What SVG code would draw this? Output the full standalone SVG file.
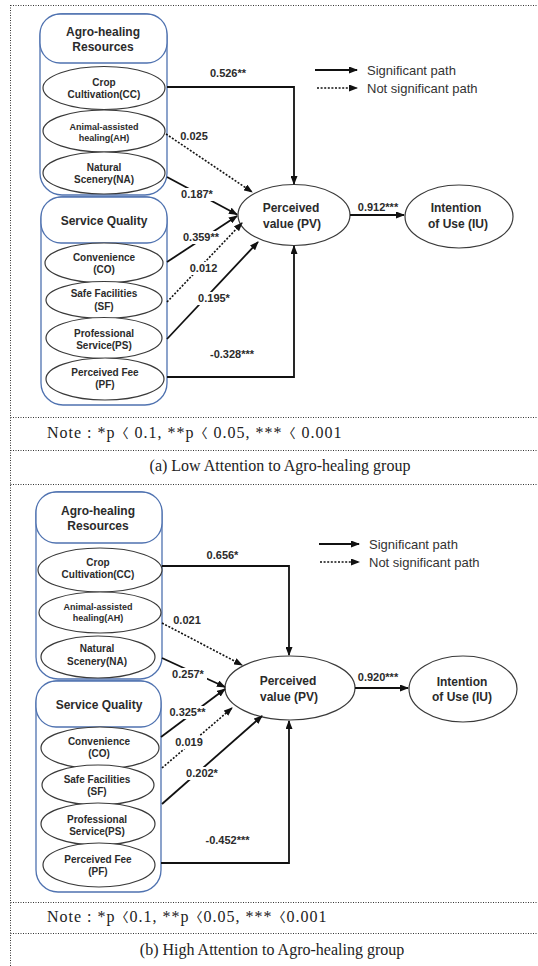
<svg xmlns="http://www.w3.org/2000/svg" width="538" height="966" viewBox="0 0 538 966">
<defs>
<marker id="ah" markerUnits="userSpaceOnUse" markerWidth="9" markerHeight="7" refX="8" refY="3.5" orient="auto">
<path d="M0,0 L9,3.5 L0,7 z" fill="#111"/>
</marker>
<style>
.frame{stroke:#333;stroke-width:1;stroke-dasharray:1 1.5;fill:none}
.box{fill:#fff;stroke:#4f72b0;stroke-width:1.3}
.ell{fill:#fff;stroke:#3a3a3a;stroke-width:1.2}
.t{font-family:"Liberation Sans",Arial,sans-serif;font-weight:bold;fill:#2b2b2b;text-anchor:middle}
.h{font-size:12px}
.n{font-size:10px}
.s{font-size:9px}
.lab{font-family:"Liberation Sans",Arial,sans-serif;font-weight:bold;font-size:11px;fill:#2b2b2b;text-anchor:middle}
.leg{font-family:"Liberation Sans",Arial,sans-serif;font-size:13px;fill:#333}
.note{font-family:"Liberation Serif","Times New Roman","Noto Sans CJK KR",serif;font-size:16px;fill:#222}
.ls{letter-spacing:1px}
.br{font-family:"DejaVu Sans","Noto Sans CJK KR",sans-serif;font-size:13px}
.sig{stroke:#111;stroke-width:1.8;fill:none;marker-end:url(#ah)}
.ns{stroke:#111;stroke-width:1.6;stroke-dasharray:2 1.6;fill:none;marker-end:url(#ah)}
.bg{fill:#fff}
</style>
</defs>
<rect width="538" height="966" fill="#fff"/>

<g id="frame">
<line class="frame" x1="10.5" y1="5" x2="10.5" y2="966"/>
<line class="frame" x1="10.5" y1="5.5" x2="538" y2="5.5"/>
<line class="frame" x1="10.5" y1="417.5" x2="538" y2="417.5"/>
<line class="frame" x1="10.5" y1="450.5" x2="538" y2="450.5"/>
<line class="frame" x1="10.5" y1="484.5" x2="538" y2="484.5"/>
<line class="frame" x1="10.5" y1="902.5" x2="538" y2="902.5"/>
<line class="frame" x1="10.5" y1="933.5" x2="538" y2="933.5"/>
</g>

<!-- ===== Panel (a) ===== -->
<g id="a-agro">
<rect class="box" x="40" y="14" width="127" height="181" rx="22"/>
<rect class="box" x="40" y="14" width="127" height="49" rx="20"/>
<text class="t h" x="103" y="36">Agro-healing</text>
<text class="t h" x="103" y="51">Resources</text>
</g>
<g id="a-service">
<rect class="box" x="41" y="197" width="126" height="208" rx="22"/>
<rect class="box" x="41" y="197" width="126" height="46" rx="20"/>
<text class="t h" x="104" y="225">Service Quality</text>
</g>
<g id="a-CC"><ellipse class="ell" cx="104" cy="88" rx="61" ry="21.5"/><text class="t n" x="104" y="86">Crop</text><text class="t n" x="104" y="98">Cultivation(CC)</text></g>
<g id="a-AH"><ellipse class="ell" cx="104" cy="131" rx="61" ry="21"/><text class="t s" x="104" y="130">Animal-assisted</text><text class="t s" x="104" y="141">healing(AH)</text></g>
<g id="a-NA"><ellipse class="ell" cx="104" cy="173" rx="61" ry="21"/><text class="t n" x="104" y="171">Natural</text><text class="t n" x="104" y="183">Scenery(NA)</text></g>
<g id="a-CO"><ellipse class="ell" cx="104" cy="263" rx="59" ry="20"/><text class="t n" x="104" y="261">Convenience</text><text class="t n" x="104" y="273">(CO)</text></g>
<g id="a-SF"><ellipse class="ell" cx="104" cy="300" rx="58" ry="18.5"/><text class="t n" x="104" y="297">Safe Facilities</text><text class="t n" x="104" y="310">(SF)</text></g>
<g id="a-PS"><ellipse class="ell" cx="104" cy="338" rx="58" ry="20.5"/><text class="t n" x="104" y="337">Professional</text><text class="t n" x="104" y="349">Service(PS)</text></g>
<g id="a-PF"><ellipse class="ell" cx="105" cy="379" rx="59" ry="21"/><text class="t n" x="105" y="376">Perceived Fee</text><text class="t n" x="105" y="388">(PF)</text></g>
<g id="a-PV"><ellipse class="ell" cx="294" cy="215" rx="56" ry="30.5"/><text class="t h" x="291" y="212">Perceived</text><text class="t h" x="292" y="228">value (PV)</text></g>
<g id="a-IU"><ellipse class="ell" cx="459" cy="216.5" rx="54" ry="31.5"/><text class="t h" x="456" y="212">Intention</text><text class="t h" x="458" y="228">of Use (IU)</text></g>

<g id="a-connectors">
<path class="sig" d="M167 87 H294 V184"/>
<path class="ns" d="M166 134 L252 192"/>
<path class="sig" d="M167 177 L237 214.5"/>
<path class="sig" d="M167 262 L237 216"/>
<path class="ns" d="M167 302 L242 223"/>
<path class="sig" d="M167 339 L258 242"/>
<path class="sig" d="M167 377 H294 V246"/>
<path class="sig" d="M350 215 H404"/>
<line x1="315" y1="70" x2="357" y2="70" class="sig"/>
<line x1="317" y1="88" x2="357" y2="88" class="ns"/>
</g>
<g id="a-labels">
<rect class="bg" x="180" y="188" width="34" height="13"/>
<rect class="bg" x="181" y="231" width="40" height="13"/>
<rect class="bg" x="188" y="262" width="31" height="13"/>
<rect class="bg" x="195" y="292" width="38" height="13"/>
<text class="lab" x="228" y="77">0.526**</text>
<text class="lab" x="194" y="140">0.025</text>
<text class="lab" x="197" y="198">0.187*</text>
<text class="lab" x="201" y="241">0.359**</text>
<text class="lab" x="203.5" y="272">0.012</text>
<text class="lab" x="214" y="302">0.195*</text>
<text class="lab" x="232" y="358">-0.328***</text>
<text class="lab" x="378" y="211">0.912***</text>
<text class="leg" x="367" y="74.5">Significant path</text>
<text class="leg" x="367" y="92.5">Not significant path</text>
</g>
<g id="a-notes">
<text class="note ls" x="47" y="438">Note : *p<tspan class="br">〈</tspan> 0.1, **p<tspan class="br">〈</tspan> 0.05, ***<tspan class="br">〈</tspan> 0.001</text>
<text class="note" x="280" y="471" text-anchor="middle">(a) Low Attention to Agro-healing group</text>
</g>

<!-- ===== Panel (b) ===== -->
<g id="b-agro">
<rect class="box" x="36" y="492" width="126" height="187" rx="22"/>
<rect class="box" x="36" y="492" width="126" height="51" rx="20"/>
<text class="t h" x="98" y="515">Agro-healing</text>
<text class="t h" x="98" y="530">Resources</text>
</g>
<g id="b-service">
<rect class="box" x="36" y="681" width="125" height="211" rx="22"/>
<rect class="box" x="36" y="681" width="125" height="46" rx="20"/>
<text class="t h" x="99" y="709">Service Quality</text>
</g>
<g id="b-CC"><ellipse class="ell" cx="100" cy="570" rx="62" ry="22"/><text class="t n" x="98" y="566">Crop</text><text class="t n" x="98" y="578">Cultivation(CC)</text></g>
<g id="b-AH"><ellipse class="ell" cx="100" cy="612.5" rx="61" ry="20.5"/><text class="t s" x="98" y="610">Animal-assisted</text><text class="t s" x="98" y="621">healing(AH)</text></g>
<g id="b-NA"><ellipse class="ell" cx="98" cy="657" rx="57" ry="21"/><text class="t n" x="97" y="652">Natural</text><text class="t n" x="97" y="665">Scenery(NA)</text></g>
<g id="b-CO"><ellipse class="ell" cx="100" cy="748" rx="59" ry="21"/><text class="t n" x="99" y="745">Convenience</text><text class="t n" x="99" y="757">(CO)</text></g>
<g id="b-SF"><ellipse class="ell" cx="98" cy="785" rx="56" ry="20"/><text class="t n" x="97" y="783">Safe Facilities</text><text class="t n" x="97" y="795">(SF)</text></g>
<g id="b-PS"><ellipse class="ell" cx="98" cy="824" rx="57" ry="21"/><text class="t n" x="97" y="823">Professional</text><text class="t n" x="97" y="835">Service(PS)</text></g>
<g id="b-PF"><ellipse class="ell" cx="99" cy="865" rx="56" ry="22"/><text class="t n" x="98" y="863">Perceived Fee</text><text class="t n" x="98" y="875">(PF)</text></g>
<g id="b-PV"><ellipse class="ell" cx="290" cy="688" rx="65" ry="32"/><text class="t h" x="288" y="685">Perceived</text><text class="t h" x="289" y="701">value (PV)</text></g>
<g id="b-IU"><ellipse class="ell" cx="463" cy="689" rx="54" ry="33"/><text class="t h" x="462" y="686">Intention</text><text class="t h" x="462" y="701">of Use (IU)</text></g>

<g id="b-connectors">
<path class="sig" d="M162 566 H289 V655"/>
<path class="ns" d="M162 623 L242 665"/>
<path class="sig" d="M162 658 L225 687"/>
<path class="sig" d="M161 737 L225 689"/>
<path class="ns" d="M162 768 L232 708"/>
<path class="sig" d="M162 804 L262 716"/>
<path class="sig" d="M161 863 H289 V721"/>
<path class="sig" d="M355 688 H408"/>
<line x1="319" y1="544" x2="359" y2="544" class="sig"/>
<line x1="320" y1="562" x2="359" y2="562" class="ns"/>
</g>
<g id="b-labels">
<rect class="bg" x="169" y="668" width="38" height="13"/>
<rect class="bg" x="166" y="706" width="43" height="13"/>
<rect class="bg" x="173" y="736" width="32" height="13"/>
<rect class="bg" x="182" y="767" width="40" height="13"/>
<text class="lab" x="222.5" y="559">0.656*</text>
<text class="lab" x="187" y="624">0.021</text>
<text class="lab" x="188" y="678">0.257*</text>
<text class="lab" x="187.5" y="716">0.325**</text>
<text class="lab" x="189" y="746">0.019</text>
<text class="lab" x="202" y="777">0.202*</text>
<text class="lab" x="227.5" y="844">-0.452***</text>
<text class="lab" x="378" y="681">0.920***</text>
<text class="leg" x="369" y="548.5">Significant path</text>
<text class="leg" x="369" y="566.5">Not significant path</text>
</g>
<g id="b-notes">
<text class="note ls" x="47" y="922">Note : *p<tspan class="br">〈</tspan>0.1, **p<tspan class="br">〈</tspan>0.05, ***<tspan class="br">〈</tspan>0.001</text>
<text class="note" x="272" y="955" text-anchor="middle">(b) High Attention to Agro-healing group</text>
</g>
</svg>
